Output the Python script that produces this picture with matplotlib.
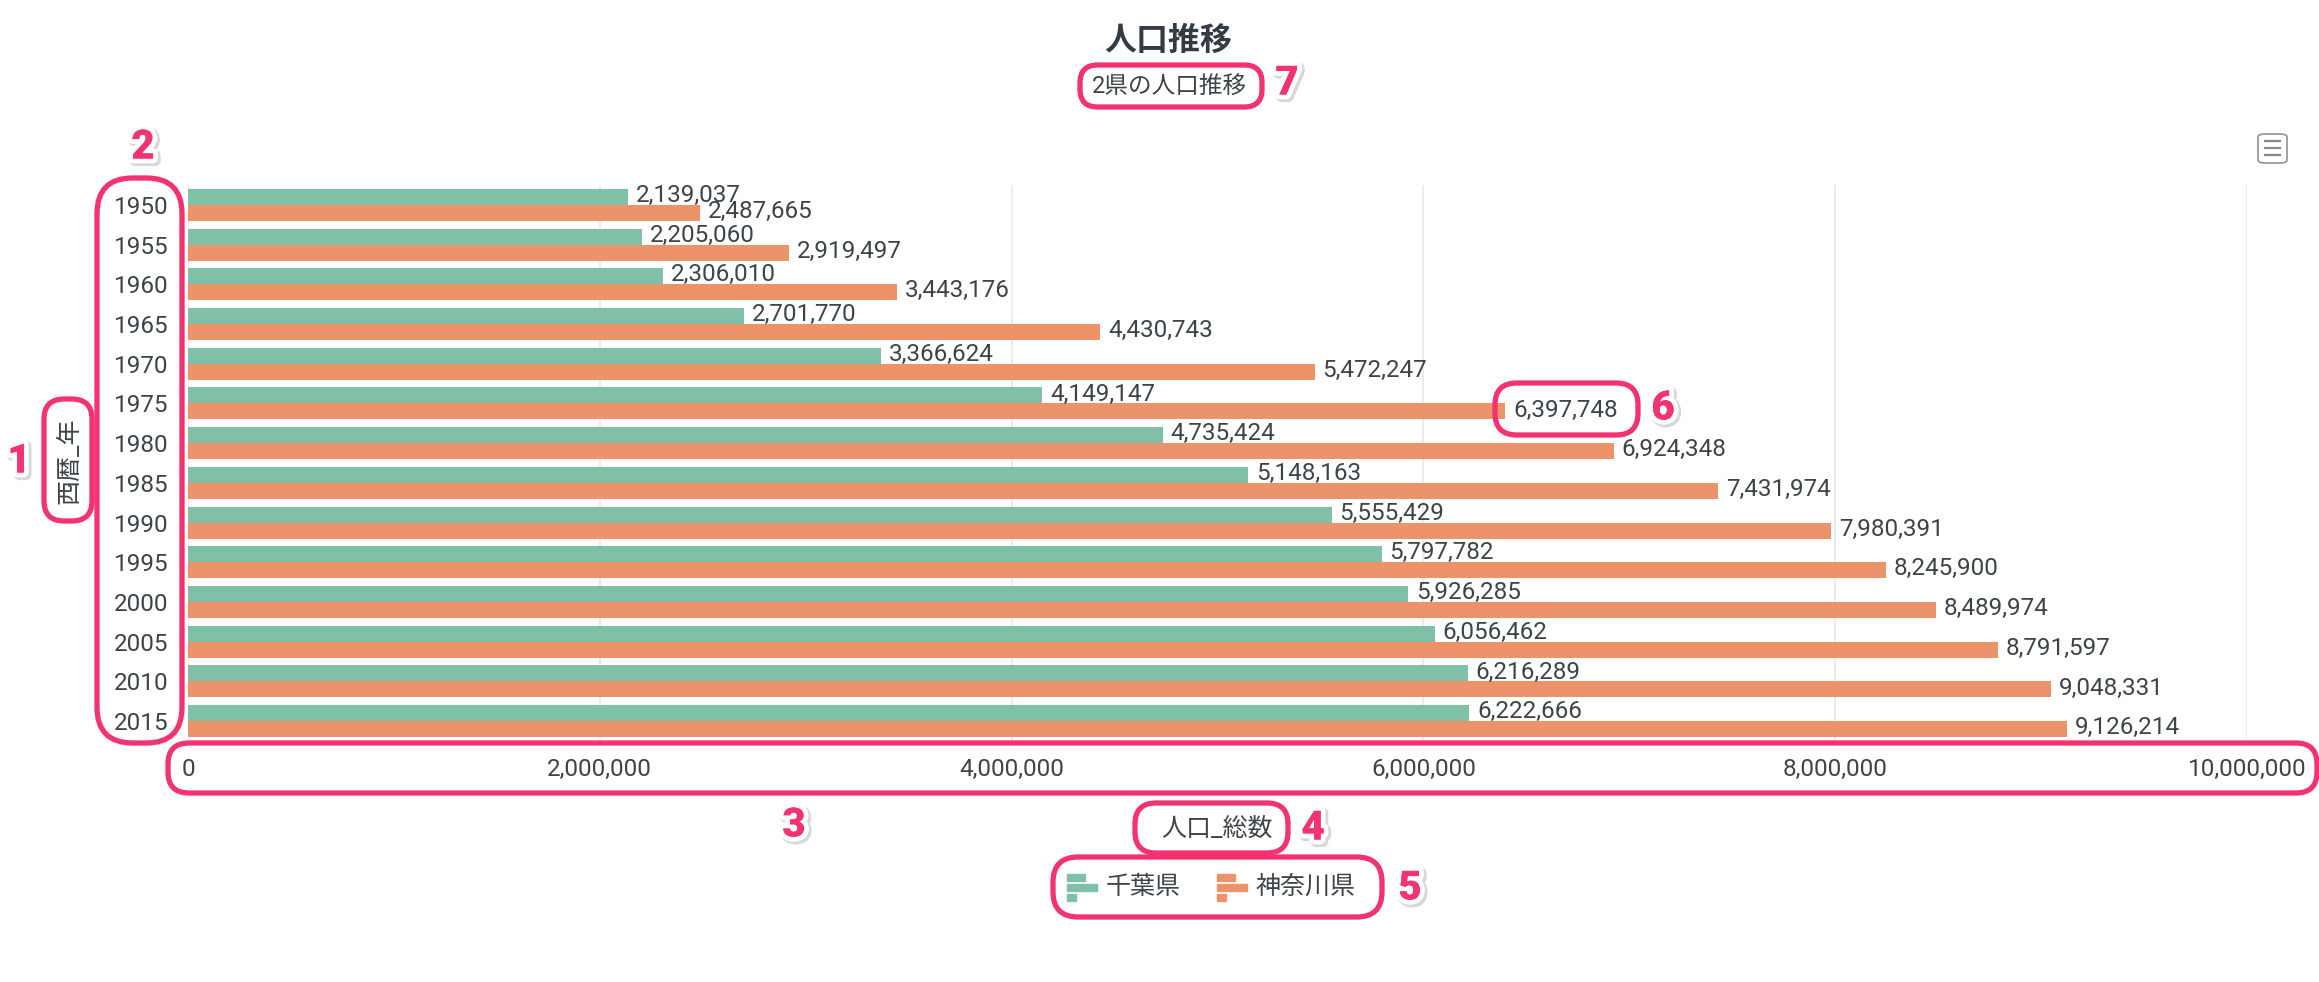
import matplotlib
matplotlib.use("Agg")
import matplotlib.pyplot as plt
import matplotlib.patheffects as pe
from matplotlib.patches import FancyBboxPatch, Rectangle
from matplotlib.ticker import FuncFormatter
import numpy as np

plt.rcParams['font.family'] = ['Roboto', 'Noto Sans CJK JP', 'DejaVu Sans']

years = ["1950", "1955", "1960", "1965", "1970", "1975", "1980", "1985",
         "1990", "1995", "2000", "2005", "2010", "2015"]
chiba = [2139037, 2205060, 2306010, 2701770, 3366624, 4149147, 4735424,
         5148163, 5555429, 5797782, 5926285, 6056462, 6216289, 6222666]
kanagawa = [2487665, 2919497, 3443176, 4430743, 5472247, 6397748, 6924348,
            7431974, 7980391, 8245900, 8489974, 8791597, 9048331, 9126214]
series_names = ["千葉県", "神奈川県"]
xticks = [0, 2000000, 4000000, 6000000, 8000000, 10000000]

title = "人口推移"
subtitle = "2県の人口推移"
xlabel = "人口_総数"
ylabel = "西暦_年"

GREEN = "#80c0a6"
ORANGE = "#ed936b"
TEXT = "#3d4449"
PINK = "#f2336f"

W, H = 2319, 982
fig = plt.figure(figsize=(W / 100, H / 100), dpi=100)
fig.patch.set_facecolor("white")

def fx(px):
    return px / W

def fy(py):
    return 1 - py / H

ax = fig.add_axes([fx(188), fy(741), fx(2247) - fx(188), fy(185) - fy(741)])

y = np.arange(len(years))
bh = 0.403
ax.barh(y - bh / 2, chiba, height=bh, color=GREEN, label=series_names[0], zorder=3)
ax.barh(y + bh / 2, kanagawa, height=bh, color=ORANGE, label=series_names[1], zorder=3)

for i in range(len(years)):
    ax.annotate(f"{chiba[i]:,}", (chiba[i], y[i] - bh / 2), xytext=(5.5, 1),
                textcoords="offset points", va="center", ha="left",
                fontsize=17.5, color=TEXT, zorder=4)
    ax.annotate(f"{kanagawa[i]:,}", (kanagawa[i], y[i] + bh / 2), xytext=(5.5, 1),
                textcoords="offset points", va="center", ha="left",
                fontsize=17.5, color=TEXT, zorder=4)

ax.set_xlim(0, 10000000)
ax.set_ylim(len(years) - 0.5, -0.5)
ax.set_xticks(xticks)
ax.xaxis.set_major_formatter(FuncFormatter(lambda v, p: f"{int(v):,}"))
ax.set_yticks(y)
ax.set_yticklabels(years)
ax.tick_params(axis="both", length=0, labelsize=17.5, labelcolor=TEXT)
ax.tick_params(axis="y", pad=14)
ax.tick_params(axis="x", pad=12)
for s in ax.spines.values():
    s.set_visible(False)
ax.grid(axis="x", color="#e9e9e9", linewidth=1.2, zorder=0)
ax.set_axisbelow(True)

# titles
fig.text(fx(1168), fy(41), title, ha="center", va="center", fontsize=23,
         fontweight="bold", color="#333c45")
fig.text(fx(1169), fy(86), subtitle, ha="center", va="center", fontsize=17,
         color=TEXT)
fig.text(fx(1217), fy(829), xlabel, ha="center", va="center", fontsize=18,
         color=TEXT)
fig.text(fx(70), fy(461), ylabel, ha="center", va="center", fontsize=18,
         color=TEXT, rotation=90)

# legend
def legend_icon(x0, yc, color):
    for dy, w in ((-10, 18), (0, 30), (10, 9)):
        fig.patches.append(Rectangle((fx(x0), fy(yc + dy + 3.5)), fx(w), fy(0) - fy(7),
                                     transform=fig.transFigure, color=color))

legend_icon(1067, 887, GREEN)
fig.text(fx(1106), fy(887), series_names[0], ha="left", va="center",
         fontsize=18, color=TEXT)
legend_icon(1217, 887, ORANGE)
fig.text(fx(1256), fy(887), series_names[1], ha="left", va="center",
         fontsize=18, color=TEXT)

# menu icon
fig.patches.append(FancyBboxPatch((fx(2258), fy(163)), fx(29), fy(0) - fy(29),
                                  boxstyle="round,pad=0,rounding_size=0.003",
                                  transform=fig.transFigure, fill=False,
                                  edgecolor="#9a9a9a", linewidth=1.3))
for ly in (141, 148, 155):
    fig.lines.append(plt.Line2D([fx(2265), fx(2280)], [fy(ly), fy(ly)],
                                transform=fig.transFigure, color="#8a8a8a",
                                linewidth=1.6))

# pink annotation boxes and numbers
boxes = [
    (44, 399, 92, 521),
    (97, 178, 182, 743),
    (168, 743, 2317, 793),
    (1135, 803, 1288, 853),
    (1053, 857, 1382, 917),
    (1495, 383, 1638, 435),
    (1080, 65, 1262, 107),
]
labels_pos = [(19, 461), (143, 147), (794, 825), (1313, 828), (1410, 888),
              (1663, 408), (1287, 83)]
for (x0, y0, x1, y1) in boxes:
    r = min(x1 - x0, y1 - y0) * 0.42
    fig.patches.append(FancyBboxPatch((x0, H - y1), x1 - x0, y1 - y0,
                                      boxstyle=f"round,pad=0,rounding_size={r}",
                                      transform=None, fill=False,
                                      edgecolor=PINK, linewidth=3.8, zorder=10))
for k, (px, py) in enumerate(labels_pos):
    fig.text(fx(px), fy(py), str(k + 1), ha="center", va="center",
             fontsize=29, fontweight="heavy", color=PINK,
             family=["Roboto", "DejaVu Sans"], zorder=11,
             path_effects=[pe.withStroke(linewidth=8, foreground="#d8d8d8",
                                         offset=(1.5, -1.5)),
                           pe.withStroke(linewidth=7, foreground="white"),
                           pe.Normal()])

fig.savefig("out.png", dpi=100, facecolor="white")
